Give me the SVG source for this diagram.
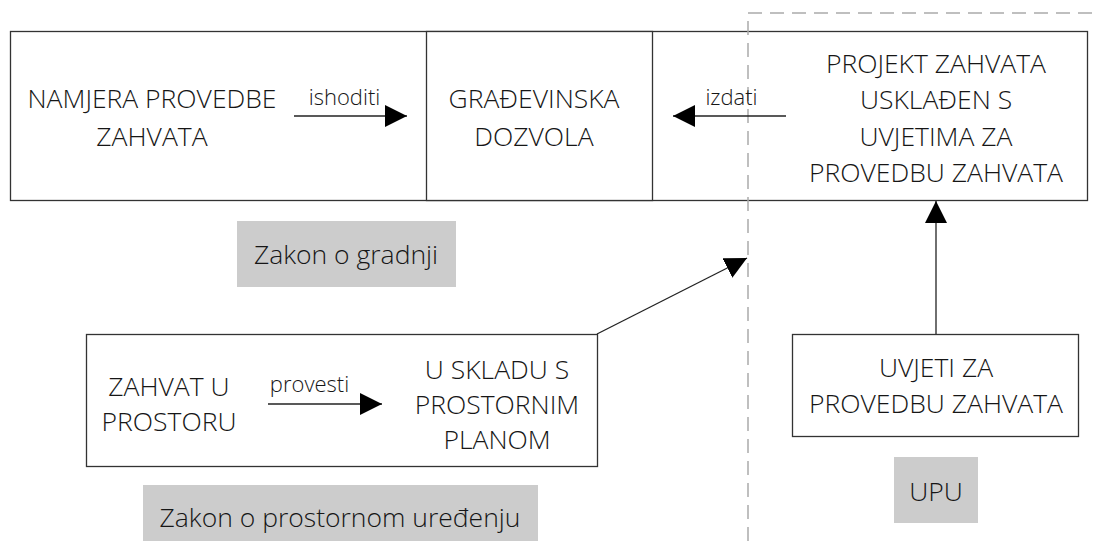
<svg xmlns="http://www.w3.org/2000/svg" width="1098" height="541" viewBox="0 0 1098 541">
  <style>
    .box { fill: #ffffff; stroke: #333333; stroke-width: 1.3; }
    .frame { fill: none; stroke: #333333; stroke-width: 1.3; }
    .tag { fill: #cccccc; stroke: none; }
    .txt { font-family: "Open Sans", "Liberation Sans", sans-serif; font-weight: 300; font-size: 26.5px; fill: #161616; text-anchor: middle; }
    .lbl { font-family: "Open Sans", "Liberation Sans", sans-serif; font-weight: 300; font-size: 22px; fill: #161616; text-anchor: middle; }
    .edge { fill: none; stroke: #222222; stroke-width: 1.3; marker-end: url(#head); }
    .divider { fill: none; stroke: #aaaaaa; stroke-width: 1.5; stroke-dasharray: 14 8; }
  </style>
  <defs>
    <marker id="head" markerUnits="userSpaceOnUse" markerWidth="22" markerHeight="22" refX="22" refY="11" orient="auto">
      <path d="M0,0 L22,11 L0,22 z" fill="#000000"/>
    </marker>
  </defs>

  <rect width="1098" height="541" fill="#ffffff"/>

  <!-- building-permit frame spanning the top row -->
  <g id="frame-gradnja">
    <rect class="frame" x="10.5" y="31.5" width="1077" height="169"/>
  </g>

  <g id="namjera">
    <text class="txt" x="152" y="108">NAMJERA PROVEDBE</text>
    <text class="txt" x="152" y="146">ZAHVATA</text>
  </g>

  <g id="gradevinska-dozvola">
    <rect class="box" x="426.5" y="31.5" width="226" height="169"/>
    <text class="txt" x="534" y="108">GRAĐEVINSKA</text>
    <text class="txt" x="534" y="146">DOZVOLA</text>
  </g>

  <g id="projekt-zahvata">
    <text class="txt" x="936" y="73">PROJEKT ZAHVATA</text>
    <text class="txt" x="936" y="109">USKLAĐEN S</text>
    <text class="txt" x="936" y="146">UVJETIMA ZA</text>
    <text class="txt" x="936" y="182">PROVEDBU ZAHVATA</text>
  </g>

  <g id="zakon-o-gradnji">
    <rect class="tag" x="237" y="221" width="219" height="66"/>
    <text class="txt" x="346" y="264">Zakon o gradnji</text>
  </g>

  <g id="zahvat-u-prostoru">
    <rect class="box" x="86.5" y="334.5" width="511" height="132"/>
    <text class="txt" x="169" y="396">ZAHVAT U</text>
    <text class="txt" x="169" y="431">PROSTORU</text>
    <text class="txt" x="497" y="379">U SKLADU S</text>
    <text class="txt" x="497" y="414">PROSTORNIM</text>
    <text class="txt" x="497" y="449">PLANOM</text>
  </g>

  <g id="zakon-o-prostornom-uredenju">
    <rect class="tag" x="143" y="485" width="395" height="56"/>
    <text class="txt" x="340" y="527">Zakon o prostornom uređenju</text>
  </g>

  <g id="uvjeti-za-provedbu">
    <rect class="box" x="792.5" y="334.5" width="286" height="102"/>
    <text class="txt" x="936" y="377">UVJETI ZA</text>
    <text class="txt" x="936" y="413">PROVEDBU ZAHVATA</text>
  </g>

  <g id="upu">
    <rect class="tag" x="894" y="457" width="84" height="66"/>
    <text class="txt" x="936" y="501">UPU</text>
  </g>

  <!-- jurisdiction divider -->
  <g id="divider">
    <path class="divider" d="M748,541 V13 H1098"/>
  </g>

  <g id="connectors">
    <line class="edge" x1="294" y1="116" x2="407" y2="116"/>
    <text class="lbl" x="344.5" y="105">ishoditi</text>
    <line class="edge" x1="786" y1="116" x2="673" y2="116"/>
    <text class="lbl" x="731.5" y="105">izdati</text>
    <line class="edge" x1="936" y1="334" x2="936" y2="201"/>
    <line class="edge" x1="597" y1="334" x2="747" y2="258"/>
    <line class="edge" x1="268" y1="404" x2="382" y2="404"/>
    <text class="lbl" x="309.5" y="392">provesti</text>
  </g>
</svg>
